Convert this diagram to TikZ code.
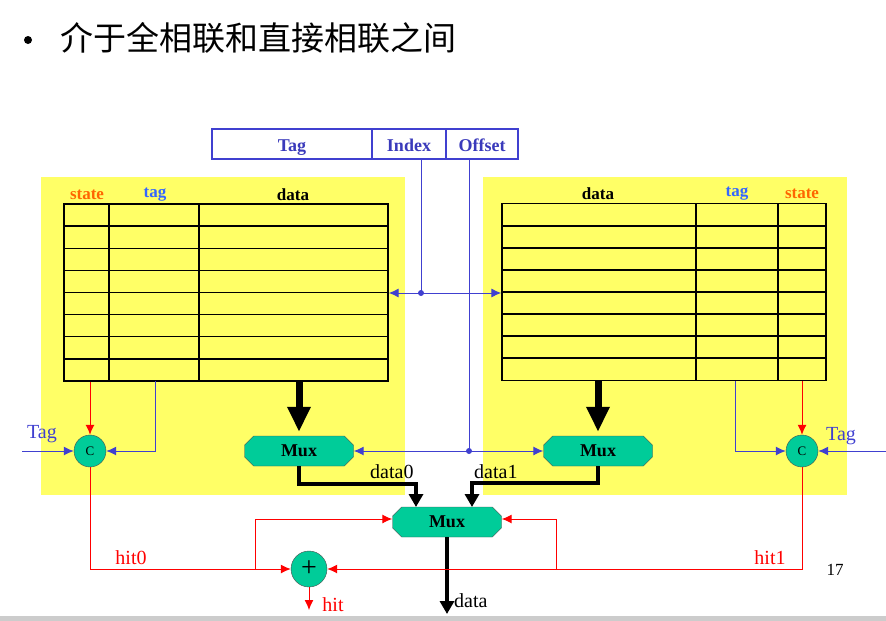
\documentclass[tikz,border=0pt]{standalone}
\usepackage{fontspec}
\setmainfont{Liberation Serif}
\newfontfamily\cjk{Noto Sans CJK SC}
\usetikzlibrary{arrows.meta,shapes.misc}
\definecolor{cellyellow}{HTML}{FFFF66}
\definecolor{muxgreen}{HTML}{00CC99}
\definecolor{wireblue}{HTML}{4040D0}
\definecolor{tagblue}{HTML}{3366FF}
\definecolor{stateorange}{HTML}{FF6600}

\begin{document}
\begin{tikzpicture}[x=1pt, y=-1pt,
    mux/.style={chamfered rectangle, chamfered rectangle xsep=8pt, draw=black!70, fill=muxgreen,
      minimum width=109pt, minimum height=30pt, inner sep=0pt, font=\fontsize{18}{18}\selectfont\bfseries},
    cmp/.style={circle, draw=black!70, fill=muxgreen, minimum size=32pt, inner sep=0pt, font=\fontsize{13}{13}\selectfont},
    field/.style={draw=wireblue, line width=1.2pt, minimum height=30pt, inner sep=0pt, text=wireblue!90!black,
      text height=15pt, text depth=1pt, font=\fontsize{18}{18}\selectfont\bfseries},
    table/.style={draw, line width=1.3pt, minimum width=324pt, minimum height=177pt, inner sep=0pt},
    hdr/.style={font=\fontsize{17}{17}\selectfont\bfseries},
    lbl/.style={font=\fontsize{20}{20}\selectfont},
    bluewire/.style={wireblue, line width=1pt, -{Latex[length=10pt,width=9pt]}},
    redwire/.style={red, line width=1pt, -{Latex[length=10pt,width=9pt]}},
    busarrow/.style={line width=4pt, -{Triangle[length=13pt,width=14pt]}},
    bigarrow/.style={line width=7pt, -{Triangle[length=25pt,width=22pt]}}]
  \useasboundingbox (0,0) rectangle (886,621);
  \fill[black!20] (0,616) rectangle (886,621);

  % Title
  \fill (28,40) circle (4pt);
  \node[anchor=west, inner sep=0pt] (title) at (60,38) {\cjk\fontsize{33}{33}\selectfont 介于全相联和直接相联之间};

  % Address fields
  \node[field, minimum width=160pt] (tagf) at (292,144) {Tag};
  \node[field, minimum width=74pt] (idxf) at (409,144) {Index};
  \node[field, minimum width=72pt] (offf) at (482,144) {Offset};

  % Two ways
  \fill[cellyellow] (41,177) rectangle (405,495);
  \fill[cellyellow] (483,177) rectangle (847,495);
  \node[table] (tabL) at (226,292.5) {};
  \node[table] (tabR) at (664,292) {};
  \foreach \r in {1,...,7} {
    \draw[line width=1.3pt] (64,{204+22.125*\r}) -- (388,{204+22.125*\r});
    \draw[line width=1.3pt] (502,{204+22*\r}) -- (826,{204+22*\r});
  }
  \draw[line width=1.3pt] (109,204) -- (109,381) (199,204) -- (199,381);
  \draw[line width=1.3pt] (696,204) -- (696,380) (778,204) -- (778,380);
  \node[hdr, stateorange] (stL) at (87,195) {state};
  \node[hdr, tagblue] (tgL) at (155,195) {tag};
  \node[hdr] (dtL) at (293,195) {data};
  \node[hdr] (dtR) at (598,194) {data};
  \node[hdr, tagblue] (tgR) at (737,194) {tag};
  \node[hdr, stateorange] (stR) at (802,194) {state};

  % Mux and compare
  \node[mux] (muxL) at (299,451) {Mux};
  \node[mux] (muxR) at (598,451) {Mux};
  \node[mux] (muxO) at (447,522) {Mux};
  \node[cmp] (cL) at (90,451) {C};
  \node[cmp] (cR) at (802,451) {C};
  \node[circle, draw=black!70, fill=muxgreen, minimum size=36pt, inner sep=0pt,
    font=\fontsize{28}{28}\selectfont] (sum) at (309,569) {+};

  \coordinate (rowsel) at (421,293);
  \coordinate (wsel) at (469,451);
  \coordinate (tagL) at (155,381);
  \coordinate (tagR) at (735,381);
  \coordinate (tsrcL) at (22,451);
  \coordinate (tsrcR) at (886,451);
  \coordinate (in0) at (416,507);
  \coordinate (in1) at (472,507);
  \coordinate (brL) at (255,569);
  \coordinate (brR) at (556,569);
  \coordinate (hitout) at (309,610);
  \coordinate (dout) at (447,614);

  % Index and offset wires
  \draw[wireblue, line width=1pt] (rowsel |- idxf.south) -- (rowsel);
  \draw[wireblue, line width=1pt] (wsel |- offf.south) -- (wsel);
  \draw[bluewire] (rowsel) -- (tabL.east |- rowsel);
  \draw[bluewire] (rowsel) -- (tabR.west |- rowsel);
  \draw[bluewire] (wsel) -- (muxL.east);
  \draw[bluewire] (wsel) -- (muxR.west);
  \fill[wireblue] (rowsel) circle (3pt) (wsel) circle (3pt);

  % Data paths
  \draw[bigarrow] (tabL.south -| muxL) -- ([yshift=4pt]muxL.north);
  \draw[bigarrow] (tabR.south -| muxR) -- ([yshift=4pt]muxR.north);
  \draw[busarrow] (muxL.south) -- ++(0,18) -| (in0);
  \draw[busarrow] (muxR.south) -- ++(0,17) -| (in1);
  \draw[busarrow] (muxO.south) -- (dout);
  \node[lbl, anchor=south west, inner sep=0pt] (d0) at (370,479) {data0};
  \node[lbl, anchor=south west, inner sep=0pt] (d1) at (474,479) {data1};
  \node[lbl, anchor=west, inner sep=0pt] (dl) at (454,601) {data};

  % Tag compare
  \draw[red, line width=1pt, -{Latex[length=10pt,width=9pt]}] (cL |- tabL.south) -- (cL.north);
  \draw[red, line width=1pt, -{Latex[length=10pt,width=9pt]}] (cR |- tabR.south) -- (cR.north);
  \draw[bluewire] (tagL) |- (cL.east);
  \draw[bluewire] (tagR) |- (cR.west);
  \draw[bluewire] (tsrcL) -- (cL.west);
  \draw[bluewire] (tsrcR) -- (cR.east);
  \node[lbl, wireblue] (tinL) at (42,434) {Tag};
  \node[lbl, wireblue] (tinR) at (841,436) {Tag};

  % Hit signals
  \draw[redwire] (cL.south) |- (sum.west);
  \draw[redwire] (cR.south) |- (sum.east);
  \draw[redwire] (brL) |- ([yshift=3pt]muxO.west);
  \draw[redwire] (brR) |- ([yshift=3pt]muxO.east);
  \draw[redwire] (sum.south) -- (hitout);
  \node[lbl, red] (h0) at (131,558) {hit0};
  \node[lbl, red] (h1) at (770,558) {hit1};
  \node[lbl, red] (hit) at (333,605) {hit};
  \node[font=\fontsize{17}{17}\selectfont] (pg) at (835,570) {17};
\end{tikzpicture}
\end{document}
